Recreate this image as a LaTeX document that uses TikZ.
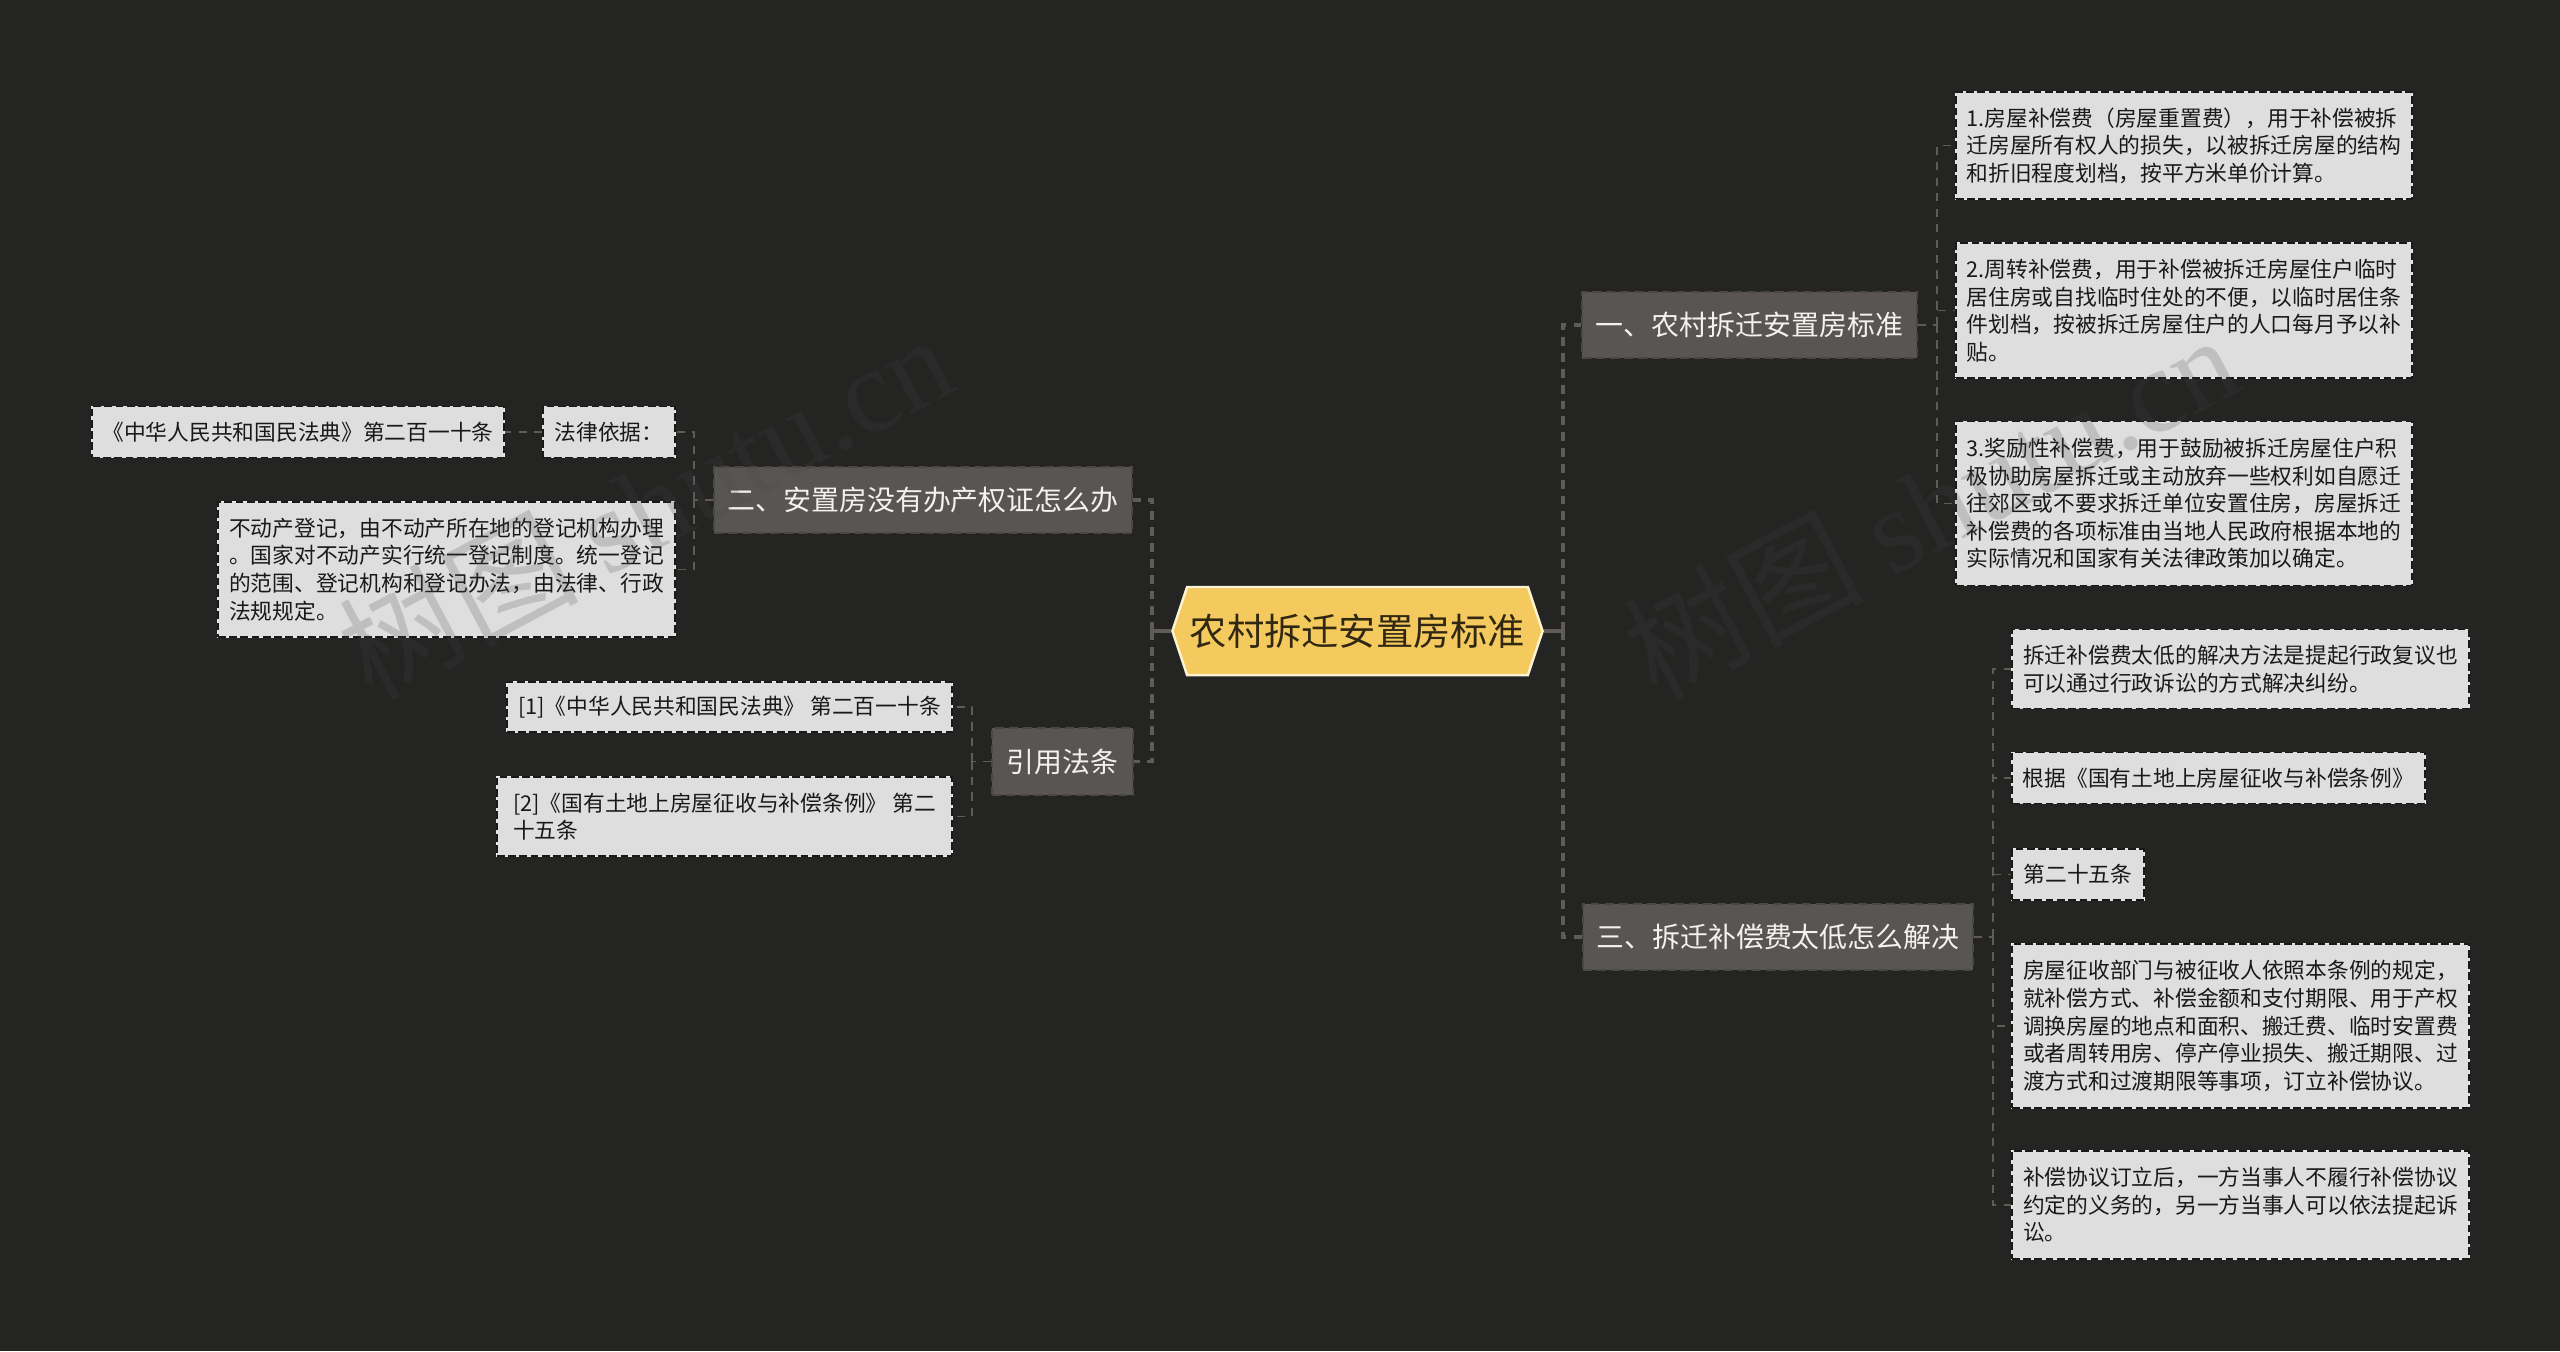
\documentclass[tikz,border=0pt]{standalone}
\usepackage{fontspec}
\setmainfont{Noto Sans CJK SC}
\newfontfamily\markfont{Liberation Serif}
\usepackage{xcolor}
\usetikzlibrary{shapes.symbols}
\definecolor{bgdark}{HTML}{242423}
\definecolor{rootfill}{HTML}{F4C95D}
\definecolor{rootline}{HTML}{FDF3D2}
\definecolor{branchfill}{HTML}{595552}
\definecolor{branchline}{HTML}{4A4745}
\definecolor{leaffill}{HTML}{DEDEDE}
\definecolor{linkgray}{HTML}{5F5C58}
\definecolor{markgray}{HTML}{464646}
\tikzset{
    rootnode/.style={shape=signal, signal to=east and west, signal pointer angle=143, fill=rootfill, draw=rootline,
        line width=0.7pt, inner sep=0pt, minimum width=3.70cm, minimum height=0.88cm, text=black!80!rootfill,
        font=\fontsize{10.6}{12}\selectfont},
    branchnode/.style={rectangle, fill=branchfill, draw=branchline, line width=0.5pt, dash pattern=on 2.5pt off 1.5pt,
        inner sep=0pt, text=white!95!black, font=\fontsize{7.94}{10}\selectfont},
    leafnode/.style={rectangle, fill=leaffill, preaction={draw=white!92!black, line width=0.45pt, solid}, draw=black!90,
        line width=0.45pt, dash pattern=on 2.2pt off 1pt,
        inner sep=0pt, align=left, text=black!90, font=\fontsize{6.18}{7.85}\selectfont},
    rootlink/.style={draw=linkgray, line width=0.95pt, dash pattern=on 2.5pt off 2pt},
    rootstub/.style={draw=linkgray, line width=0.95pt},
    leaflink/.style={draw=linkgray, line width=0.45pt, dash pattern=on 2.3pt off 2.1pt},
    watermark/.style={text=markgray, opacity=0.2, rotate=28, font=\fontsize{34}{38}\selectfont}
}
\begin{document}
\begin{tikzpicture}[x=0.01cm, y=-0.01cm]
    \fill[bgdark] (0,0) rectangle (2560,1351);
    \useasboundingbox (0,0) rectangle (2560,1351);

    % root and main branches
    \node[rootnode] (root) at (1357.5,631) {农村拆迁安置房标准};
    \node[branchnode, minimum width=3.35cm, minimum height=0.66cm] (rehouse) at (1749.5,325) {一、农村拆迁安置房标准};
    \node[branchnode, minimum width=3.90cm, minimum height=0.66cm] (lowpay) at (1778,937) {三、拆迁补偿费太低怎么解决};
    \node[branchnode, minimum width=4.18cm, minimum height=0.66cm] (nocert) at (923,500) {二、安置房没有办产权证怎么办};
    \node[branchnode, minimum width=1.41cm, minimum height=0.67cm] (cited) at (1062.5,761.5) {引用法条};

    % right side leaves
    \node[leafnode, minimum width=4.56cm, minimum height=1.07cm] (pay1) at (2184,145.5) {1.房屋补偿费（房屋重置费），用于补偿被拆\\迁房屋所有权人的损失，以被拆迁房屋的结构\\和折旧程度划档，按平方米单价计算。};
    \node[leafnode, minimum width=4.56cm, minimum height=1.35cm] (pay2) at (2184,310.5) {2.周转补偿费，用于补偿被拆迁房屋住户临时\\居住房或自找临时住处的不便，以临时居住条\\件划档，按被拆迁房屋住户的人口每月予以补\\贴。};
    \node[leafnode, minimum width=4.56cm, minimum height=1.64cm] (pay3) at (2184,503.5) {3.奖励性补偿费，用于鼓励被拆迁房屋住户积\\极协助房屋拆迁或主动放弃一些权利如自愿迁\\往郊区或不要求拆迁单位安置住房，房屋拆迁\\补偿费的各项标准由当地人民政府根据本地的\\实际情况和国家有关法律政策加以确定。};
    \node[leafnode, minimum width=4.57cm, minimum height=0.79cm] (low1) at (2240.5,669) {拆迁补偿费太低的解决方法是提起行政复议也\\可以通过行政诉讼的方式解决纠纷。};
    \node[leafnode, minimum width=4.13cm, minimum height=0.51cm] (low2) at (2218.5,778) {根据《国有土地上房屋征收与补偿条例》};
    \node[leafnode, minimum width=1.32cm, minimum height=0.51cm] (low3) at (2078,874.5) {第二十五条};
    \node[leafnode, minimum width=4.57cm, minimum height=1.64cm] (low4) at (2240.5,1026) {房屋征收部门与被征收人依照本条例的规定，\\就补偿方式、补偿金额和支付期限、用于产权\\调换房屋的地点和面积、搬迁费、临时安置费\\或者周转用房、停产停业损失、搬迁期限、过\\渡方式和过渡期限等事项，订立补偿协议。};
    \node[leafnode, minimum width=4.57cm, minimum height=1.08cm] (low5) at (2240.5,1205) {补偿协议订立后，一方当事人不履行补偿协议\\约定的义务的，另一方当事人可以依法提起诉\\讼。};

    % left side leaves
    \node[leafnode, minimum width=1.32cm, minimum height=0.51cm] (basis) at (609,432) {法律依据：};
    \node[leafnode, minimum width=4.12cm, minimum height=0.51cm] (code) at (298,432) {《中华人民共和国民法典》第二百一十条};
    \node[leafnode, minimum width=4.57cm, minimum height=1.35cm] (regist) at (446.5,569.5) {不动产登记，由不动产所在地的登记机构办理\\。国家对不动产实行统一登记制度。统一登记\\的范围、登记机构和登记办法，由法律、行政\\法规规定。};
    \node[leafnode, minimum width=4.45cm, minimum height=0.50cm] (ref1) at (729.5,707) {[1]《中华人民共和国民法典》 第二百一十条};
    \node[leafnode, minimum width=4.55cm, minimum height=0.79cm] (ref2) at (724.5,816.5) {[2]《国有土地上房屋征收与补偿条例》 第二\\十五条};

    % bus points
    \coordinate (busl) at (1152,631);
    \coordinate (busr) at (1563,631);
    \coordinate (busa) at (1937,325);
    \coordinate (busb) at (1993,937);
    \coordinate (busc) at (694,500);
    \coordinate (busd) at (972,761.5);

    \draw[rootstub] (root.west) -- (busl);
    \draw[rootstub] (root.east) -- (busr);
    \draw[rootlink] (busl) |- (nocert.east);
    \draw[rootlink] (busl) |- (cited.east);
    \draw[rootlink] (busr) |- (rehouse.west);
    \draw[rootlink] (busr) |- (lowpay.west);

    \draw[leaflink] (rehouse.east) -- (busa);
    \draw[leaflink] (busa) |- (pay1.west);
    \draw[leaflink] (busa) |- (pay2.west);
    \draw[leaflink] (busa) |- (pay3.west);

    \draw[leaflink] (lowpay.east) -- (busb);
    \draw[leaflink] (busb) |- (low1.west);
    \draw[leaflink] (busb) |- (low2.west);
    \draw[leaflink] (busb) |- (low3.west);
    \draw[leaflink] (busb) |- (low4.west);
    \draw[leaflink] (busb) |- (low5.west);

    \draw[leaflink] (nocert.west) -- (busc);
    \draw[leaflink] (busc) |- (basis.east);
    \draw[leaflink] (busc) |- (regist.east);
    \draw[leaflink] (basis.west) -- (code.east);

    \draw[leaflink] (cited.west) -- (busd);
    \draw[leaflink] (busd) |- (ref1.east);
    \draw[leaflink] (busd) |- (ref2.east);

    % watermarks
    \node[watermark] (markl) at (645,505) {树图 {\markfont shutu.cn}};
    \node[watermark] (markr) at (1930,505) {树图 {\markfont shutu.cn}};
\end{tikzpicture}
\end{document}
